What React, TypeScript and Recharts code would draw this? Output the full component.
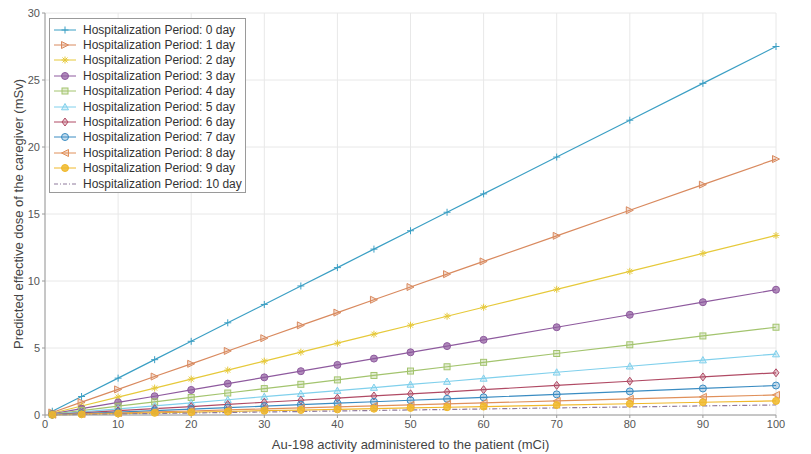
import { CartesianGrid, Line, LineChart, XAxis, YAxis } from "recharts";

const activity = [1, 5, 10, 15, 20, 25, 30, 35, 40, 45, 50, 55, 60, 70, 80, 90, 100];

const day0 = [0.28, 1.38, 2.75, 4.13, 5.5, 6.88, 8.25, 9.63, 11.0, 12.38, 13.75, 15.13, 16.5, 19.25, 22.0, 24.75, 27.5];
const day1 = [0.19, 0.96, 1.91, 2.87, 3.82, 4.78, 5.73, 6.69, 7.64, 8.6, 9.55, 10.51, 11.46, 13.37, 15.28, 17.19, 19.1];
const day2 = [0.13, 0.67, 1.34, 2.01, 2.68, 3.35, 4.02, 4.69, 5.36, 6.03, 6.7, 7.37, 8.04, 9.38, 10.72, 12.06, 13.4];
const day3 = [0.09, 0.47, 0.94, 1.4, 1.87, 2.34, 2.81, 3.27, 3.74, 4.21, 4.68, 5.14, 5.61, 6.55, 7.48, 8.42, 9.35];
const day4 = [0.07, 0.33, 0.66, 0.98, 1.31, 1.64, 1.97, 2.29, 2.62, 2.95, 3.28, 3.6, 3.93, 4.59, 5.24, 5.9, 6.55];
const day5 = [0.05, 0.23, 0.46, 0.68, 0.91, 1.14, 1.37, 1.59, 1.82, 2.05, 2.28, 2.5, 2.73, 3.19, 3.64, 4.1, 4.55];
const day6 = [0.03, 0.16, 0.32, 0.47, 0.63, 0.79, 0.95, 1.1, 1.26, 1.42, 1.58, 1.73, 1.89, 2.21, 2.52, 2.84, 3.15];
const day7 = [0.02, 0.11, 0.22, 0.33, 0.44, 0.55, 0.66, 0.77, 0.88, 0.99, 1.1, 1.21, 1.32, 1.54, 1.76, 1.98, 2.2];
const day8 = [0.02, 0.08, 0.15, 0.23, 0.3, 0.38, 0.45, 0.53, 0.6, 0.68, 0.75, 0.83, 0.9, 1.05, 1.2, 1.35, 1.5];
const day9 = [0.01, 0.05, 0.11, 0.16, 0.21, 0.26, 0.32, 0.37, 0.42, 0.47, 0.53, 0.58, 0.63, 0.74, 0.84, 0.95, 1.05];
const day10 = [0.01, 0.04, 0.08, 0.11, 0.15, 0.19, 0.23, 0.26, 0.3, 0.34, 0.38, 0.41, 0.45, 0.53, 0.6, 0.68, 0.75];

const seriesValues = [day0, day1, day2, day3, day4, day5, day6, day7, day8, day9, day10];
const seriesNames = [
  "Hospitalization Period: 0 day",
  "Hospitalization Period: 1 day",
  "Hospitalization Period: 2 day",
  "Hospitalization Period: 3 day",
  "Hospitalization Period: 4 day",
  "Hospitalization Period: 5 day",
  "Hospitalization Period: 6 day",
  "Hospitalization Period: 7 day",
  "Hospitalization Period: 8 day",
  "Hospitalization Period: 9 day",
  "Hospitalization Period: 10 day",
];
const xTicks = [0, 10, 20, 30, 40, 50, 60, 70, 80, 90, 100];
const yTicks = [0, 5, 10, 15, 20, 25, 30];

const colors = [
  "#3b9fc4", "#d98a5f", "#e6c93a", "#8e5a9e", "#a3c46e", "#80d0ec",
  "#b04a64", "#3a8cc2", "#e0905a", "#f0b82a", "#8f7a9c",
];
const markers = [
  "plus", "triRight", "star", "circleFill", "square", "triUp",
  "diamond", "circle", "triLeft", "starFill", "none",
];

const data = activity.map((x, i) => {
  const row: Record<string, number> = { x };
  seriesValues.forEach((s, k) => {
    row["d" + k] = s[i];
  });
  return row;
});

function MarkerShape({ kind, cx, cy, color }: { kind: string; cx: number; cy: number; color: string }) {
  const r = 3.5;
  const fill = color;
  const common = { stroke: color, strokeWidth: 1 };
  switch (kind) {
    case "plus":
      return (
        <g {...common}>
          <line x1={cx - r} y1={cy} x2={cx + r} y2={cy} />
          <line x1={cx} y1={cy - r} x2={cx} y2={cy + r} />
        </g>
      );
    case "triRight":
      return <polygon points={`${cx - r},${cy - r} ${cx + r},${cy} ${cx - r},${cy + r}`} fill={fill} fillOpacity={0.3} {...common} />;
    case "triLeft":
      return <polygon points={`${cx + r},${cy - r} ${cx - r},${cy} ${cx + r},${cy + r}`} fill={fill} fillOpacity={0.3} {...common} />;
    case "triUp":
      return <polygon points={`${cx - r},${cy + r * 0.8} ${cx},${cy - r} ${cx + r},${cy + r * 0.8}`} fill={fill} fillOpacity={0.3} {...common} />;
    case "square":
      return <rect x={cx - r + 0.5} y={cy - r + 0.5} width={2 * r - 1} height={2 * r - 1} fill={fill} fillOpacity={0.3} {...common} />;
    case "diamond":
      return <polygon points={`${cx},${cy - r - 0.5} ${cx + r - 0.5},${cy} ${cx},${cy + r + 0.5} ${cx - r + 0.5},${cy}`} fill={fill} fillOpacity={0.3} {...common} />;
    case "circle":
      return <circle cx={cx} cy={cy} r={r} fill={fill} fillOpacity={0.3} {...common} />;
    case "circleFill":
      return <circle cx={cx} cy={cy} r={r} fill={fill} fillOpacity={0.7} {...common} />;
    case "star":
      return (
        <g {...common}>
          <line x1={cx - r} y1={cy} x2={cx + r} y2={cy} />
          <line x1={cx} y1={cy - r} x2={cx} y2={cy + r} />
          <line x1={cx - 2.5} y1={cy - 2.5} x2={cx + 2.5} y2={cy + 2.5} />
          <line x1={cx - 2.5} y1={cy + 2.5} x2={cx + 2.5} y2={cy - 2.5} />
        </g>
      );
    case "starFill":
      return <circle cx={cx} cy={cy} r={r} fill={fill} fillOpacity={0.85} {...common} />;
    default:
      return null;
  }
}

function ChartLegend() {
  return (
    <div
      style={{
        position: "absolute",
        left: 49,
        top: 18,
        border: "1px solid #9a9a9a",
        background: "#fff",
        padding: "3px 3px 1px 3px",
        fontFamily: "Liberation Sans, Arial, sans-serif",
        fontSize: 12,
        color: "#333",
      }}
    >
      {seriesNames.map((name, k) => (
        <div key={name} style={{ display: "flex", alignItems: "center", height: 15.4 }}>
          <svg width={24} height={12} style={{ marginRight: 6 }}>
            <line
              x1={1}
              y1={6}
              x2={23}
              y2={6}
              stroke={colors[k]}
              strokeWidth={1}
              strokeDasharray={markers[k] === "none" ? "4 2 1 2" : undefined}
            />
            <MarkerShape kind={markers[k]} cx={12} cy={6} color={colors[k]} />
          </svg>
          <span style={{ whiteSpace: "nowrap" }}>{name}</span>
        </div>
      ))}
    </div>
  );
}

export default function App() {
  return (
    <div style={{ position: "absolute", left: 0, top: 0, width: 811, height: 454, background: "#fff" }}>
      <LineChart
        width={811}
        height={454}
        data={data}
        margin={{ top: 13, right: 35, bottom: 0, left: 0 }}
        style={{ fontFamily: "Liberation Sans, Arial, sans-serif" }}
      >
        <CartesianGrid stroke="#e8e8e8" horizontalValues={yTicks} verticalValues={xTicks} />
        <XAxis
          dataKey="x"
          type="number"
          domain={[0, 100]}
          ticks={xTicks}
          height={39}
          stroke="#9a9a9a"
          tick={{ fill: "#555", fontSize: 11 }}
          tickSize={3}
          label={{ value: "Au-198 activity administered to the patient (mCi)", position: "insideBottom", offset: 5, fill: "#444", fontSize: 13 }}
        />
        <XAxis xAxisId="top" orientation="top" type="number" domain={[0, 100]} ticks={xTicks} height={0} tick={false} stroke="#9a9a9a" />
        <YAxis
          type="number"
          domain={[0, 30]}
          ticks={yTicks}
          width={45}
          stroke="#9a9a9a"
          tick={{ fill: "#555", fontSize: 11 }}
          tickSize={3}
          label={{ value: "Predicted effective dose of the caregiver (mSv)", angle: -90, position: "insideLeft", offset: 18, style: { textAnchor: "middle" }, fill: "#444", fontSize: 13 }}
        />
        <YAxis yAxisId="right" orientation="right" type="number" domain={[0, 30]} ticks={yTicks} width={0} tick={false} stroke="#9a9a9a" />
        {seriesNames.map((name, k) => (
          <Line
            key={name}
            name={name}
            dataKey={"d" + k}
            stroke={colors[k]}
            strokeWidth={1.2}
            strokeDasharray={markers[k] === "none" ? "5 2 1 2" : undefined}
            isAnimationActive={false}
            dot={(p: any) => <MarkerShape key={p.index} kind={markers[k]} cx={p.cx} cy={p.cy} color={colors[k]} />}
            activeDot={false}
          />
        ))}
      </LineChart>
      <ChartLegend />
    </div>
  );
}
